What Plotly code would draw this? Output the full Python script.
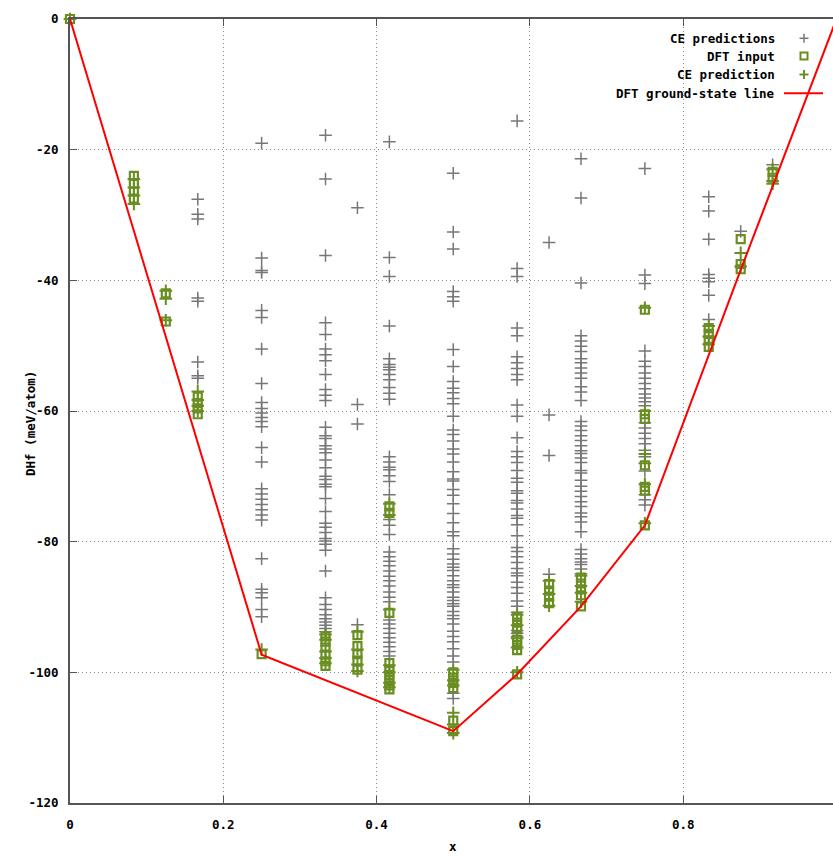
import plotly.graph_objects as go

# Compositions (fraction x) of the enumerated structures
compositions = [1/12, 1/8, 1/6, 1/4, 1/3, 3/8, 5/12, 1/2, 7/12, 5/8, 2/3, 3/4, 5/6, 7/8, 11/12]

# Cluster-expansion predicted formation energies (meV/atom), one list per composition
ce_1_12 = []
ce_1_8 = []
ce_1_6 = [-27.6, -29.9, -30.6, -42.7, -43.2, -52.5, -54.6, -55.0]
ce_1_4 = [-19.0, -36.6, -38.5, -38.8, -44.6, -45.7, -50.5, -55.8, -58.7, -59.6, -60.3, -61.0,
          -61.6, -62.4, -65.6, -67.8, -71.9, -72.7, -73.5, -74.3, -75.1, -75.9, -76.7, -82.6,
          -87.3, -87.8, -88.6, -90.4, -91.5]
ce_1_3 = [-17.8, -24.5, -36.2, -46.5, -48.3, -50.5, -51.4, -52.3, -54.4, -56.7, -57.6, -58.4,
          -62.5, -63.8, -64.2, -65.3, -65.8, -66.4, -67.5, -68.7, -70.0, -70.5, -71.2, -71.6,
          -73.4, -75.4, -77.2, -77.8, -78.6, -79.5, -79.9, -80.4, -81.3, -84.5, -88.6, -89.6,
          -90.4, -91.2, -91.8, -92.3, -92.8, -93.3, -93.8]
ce_3_8 = [-28.9, -59.0, -62.0, -92.7]
ce_5_12 = [-18.8, -36.5, -39.4, -47.0, -52.0, -52.9, -53.3, -53.7, -54.4, -55.2, -56.4, -57.3,
           -58.2, -67.0, -67.8, -68.6, -69.0, -69.9, -70.8, -72.8, -76.6, -77.5, -78.9, -81.6,
           -82.3, -83.0, -83.7, -84.5, -85.3, -86.0, -86.8, -87.7, -88.5, -89.2, -92.0, -92.6,
           -93.3, -94.0, -94.7, -95.4, -96.1, -96.8, -97.5]
ce_1_2 = [-23.6, -32.6, -35.2, -41.7, -42.5, -43.2, -50.6, -53.2, -55.5, -56.5, -57.2, -58.1,
          -58.9, -60.8, -62.9, -63.6, -64.6, -65.8, -66.6, -67.8, -69.3, -70.4, -70.7, -72.0,
          -72.9, -74.2, -75.7, -77.1, -78.5, -79.1, -81.1, -81.9, -82.7, -83.4, -83.9, -84.4,
          -85.2, -86.0, -86.6, -87.0, -87.7, -88.5, -89.0, -89.5, -89.9, -90.7, -91.3, -91.8,
          -92.6, -93.7, -94.5, -95.3, -96.4, -97.5, -98.4, -103.2, -104.0]
ce_7_12 = [-15.6, -38.2, -39.4, -47.3, -48.5, -51.7, -52.6, -53.5, -54.4, -55.2, -59.1, -60.8,
           -64.1, -66.2, -67.0, -67.9, -69.1, -70.3, -70.9, -72.2, -72.6, -73.7, -74.1, -75.0,
           -76.0, -76.4, -77.4, -79.1, -80.9, -81.5, -82.3, -83.2, -84.1, -84.8, -85.2, -86.2,
           -87.0, -87.9, -89.1, -89.9, -90.8, -93.6, -94.0, -94.5]
ce_5_8 = [-34.2, -60.6, -66.8, -85.0]
ce_2_3 = [-21.4, -27.4, -40.4, -48.5, -49.3, -50.1, -50.9, -52.0, -52.6, -53.4, -54.2, -55.0,
          -56.3, -57.1, -58.4, -61.6, -62.3, -63.0, -63.8, -64.5, -65.3, -66.1, -66.5, -67.2,
          -67.9, -69.1, -69.5, -70.6, -71.5, -72.3, -73.1, -73.9, -74.6, -75.6, -76.2, -77.0,
          -78.5, -81.2, -81.9, -82.6, -83.1, -83.5, -84.2, -84.9]
ce_3_4 = [-22.9, -39.2, -40.5, -50.8, -52.4, -53.2, -54.2, -55.0, -55.8, -56.6, -57.4, -58.0,
          -58.6, -59.2, -61.8, -62.6, -63.4, -64.2, -65.0, -66.0, -67.0, -69.2, -72.8, -73.6,
          -74.4]
ce_5_6 = [-27.2, -29.4, -33.7, -39.1, -39.7, -40.2, -42.3, -46.0]
ce_7_8 = [-32.5]
ce_11_12 = [-22.3]

# DFT-calculated formation energies of the input structures (meV/atom)
dft_0 = [0.0]
dft_1_12 = [-24.0, -25.2, -26.4, -27.5]
dft_1_8 = [-42.0, -46.3]
dft_1_6 = [-57.8, -58.8, -59.6, -60.5]
dft_1_4 = [-97.2]
dft_1_3 = [-94.5, -95.3, -96.2, -97.3, -98.3, -99.0]
dft_3_8 = [-94.3, -96.0, -97.2, -98.2, -99.6]
dft_5_12 = [-74.6, -75.6, -90.9, -98.6, -99.6, -100.4, -101.2, -102.0, -102.6]
dft_1_2 = [-100.0, -100.8, -101.6, -102.4, -107.4, -109.0]
dft_7_12 = [-91.5, -92.4, -93.2, -95.0, -95.8, -96.6, -100.3]
dft_5_8 = [-86.5, -87.5, -88.4, -89.4]
dft_2_3 = [-85.5, -86.4, -87.3, -88.2, -89.9]
dft_3_4 = [-44.5, -60.5, -61.2, -68.3, -71.6, -72.2, -77.5]
dft_5_6 = [-47.3, -48.2, -49.2, -50.2]
dft_7_8 = [-33.7, -37.5, -38.3]
dft_11_12 = [-23.4, -24.3]

# CE predictions for the same input structures (meV/atom)
cefit_0 = [0.0]
cefit_1_12 = [-24.5, -25.8, -27.0, -28.3]
cefit_1_8 = [-41.6, -42.8, -46.1]
cefit_1_6 = [-57.0, -58.3, -59.2, -60.0]
cefit_1_4 = [-96.5]
cefit_1_3 = [-94.2, -95.0, -96.8, -97.8, -98.6]
cefit_3_8 = [-93.8, -96.5, -98.8, -99.8]
cefit_5_12 = [-74.2, -75.9, -90.4, -98.9, -100.0, -101.6, -102.3]
cefit_1_2 = [-99.6, -101.2, -102.0, -106.2, -108.0, -109.3]
cefit_7_12 = [-91.2, -92.8, -94.8, -96.2, -100.0]
cefit_5_8 = [-86.0, -88.0, -89.8]
cefit_2_3 = [-85.2, -86.8, -87.8, -89.2]
cefit_3_4 = [-44.2, -60.0, -66.6, -68.0, -71.2, -77.2]
cefit_5_6 = [-47.0, -48.6, -49.8]
cefit_7_8 = [-35.8, -37.9]
cefit_11_12 = [-23.0, -24.8, -25.2]

# DFT ground-state (convex hull) vertices
hull_x = [0, 1/4, 1/2, 7/12, 2/3, 3/4, 7/8, 1]
hull_y = [0.0, -97.3, -109.0, -100.3, -89.9, -77.5, -38.4, 0.0]

# Axis ticks
x_ticks = [0, 0.2, 0.4, 0.6, 0.8]
x_tick_text = ["0", "0.2", "0.4", "0.6", "0.8"]
y_ticks = [0, -20, -40, -60, -80, -100, -120]
y_tick_text = ["0", "-20", "-40", "-60", "-80", "-100", "-120"]

ce_groups = [ce_1_12, ce_1_8, ce_1_6, ce_1_4, ce_1_3, ce_3_8, ce_5_12, ce_1_2, ce_7_12,
             ce_5_8, ce_2_3, ce_3_4, ce_5_6, ce_7_8, ce_11_12]
dft_comps = [0] + compositions
dft_groups = [dft_0, dft_1_12, dft_1_8, dft_1_6, dft_1_4, dft_1_3, dft_3_8, dft_5_12, dft_1_2,
              dft_7_12, dft_5_8, dft_2_3, dft_3_4, dft_5_6, dft_7_8, dft_11_12]
cefit_groups = [cefit_0, cefit_1_12, cefit_1_8, cefit_1_6, cefit_1_4, cefit_1_3, cefit_3_8,
                cefit_5_12, cefit_1_2, cefit_7_12, cefit_5_8, cefit_2_3, cefit_3_4, cefit_5_6,
                cefit_7_8, cefit_11_12]


def flatten(comps, groups):
    xs, ys = [], []
    for c, g in zip(comps, groups):
        xs += [c] * len(g)
        ys += list(g)
    return xs, ys


GREY = "#777777"
GREEN = "#6b8e23"
RED = "#ff0000"
AXIS = "#555555"
GRID = "#8c8c8c"
FONT = dict(family="DejaVu Sans Mono", size=12.5, color="black", weight="bold")

fig = go.Figure()

x, y = flatten(compositions, ce_groups)
fig.add_trace(go.Scatter(
    x=x, y=y, mode="markers", name="CE predictions", cliponaxis=False,
    marker=dict(symbol="cross-thin", size=9, color=GREY, line=dict(color=GREY, width=1.5)),
))

x, y = flatten(dft_comps, dft_groups)
fig.add_trace(go.Scatter(
    x=x, y=y, mode="markers", name="DFT input", cliponaxis=False,
    marker=dict(symbol="square-open", size=8, color=GREEN, line=dict(color=GREEN, width=2.2)),
))

x, y = flatten(dft_comps, cefit_groups)
fig.add_trace(go.Scatter(
    x=x, y=y, mode="markers", name="CE prediction", cliponaxis=False,
    marker=dict(symbol="cross-thin", size=9, color=GREEN, line=dict(color=GREEN, width=2)),
))

fig.add_trace(go.Scatter(
    x=hull_x, y=hull_y, mode="lines", name="DFT ground-state line",
    line=dict(color=RED, width=2),
))

# Key block in the top-right corner: right-aligned labels with the sample to their right
W, H = 833, 857
ML, MR, MT, MB = 70, 0, 19, 54
pw, ph = W - ML - MR, H - MT - MB


def px(xp):
    return (xp - ML) / pw


def py(yp):
    return (H - MB - yp) / ph


key_labels = ["CE predictions", "DFT input", "CE prediction", "DFT ground-state line"]
key_rows = [38.3, 56.0, 74.5, 93.3]
for label, row in zip(key_labels, key_rows):
    fig.add_annotation(x=px(777), y=py(row), xref="paper", yref="paper", text=label,
                       showarrow=False, xanchor="right", yanchor="middle", font=FONT)

# Axis titles
fig.add_annotation(x=px(453), y=py(847), xref="paper", yref="paper", text="x",
                   showarrow=False, xanchor="center", yanchor="middle", font=FONT)
fig.add_annotation(x=px(30), y=py(424), xref="paper", yref="paper", text="DHf (meV/atom)",
                   showarrow=False, xanchor="center", yanchor="middle", textangle=-90,
                   font=FONT)

kx = 804
shapes = []
# grey plus
shapes += [dict(type="line", xref="paper", yref="paper", x0=px(kx - 4.5), x1=px(kx + 4.5),
                y0=py(key_rows[0]), y1=py(key_rows[0]), line=dict(color=GREY, width=1.5)),
           dict(type="line", xref="paper", yref="paper", x0=px(kx), x1=px(kx),
                y0=py(key_rows[0] - 4.5), y1=py(key_rows[0] + 4.5), line=dict(color=GREY, width=1.5))]
# green open square
shapes.append(dict(type="rect", xref="paper", yref="paper", x0=px(kx - 3.5), x1=px(kx + 3.5),
                   y0=py(key_rows[1] - 3.5), y1=py(key_rows[1] + 3.5),
                   line=dict(color=GREEN, width=2)))
# green plus
shapes += [dict(type="line", xref="paper", yref="paper", x0=px(kx - 4.5), x1=px(kx + 4.5),
                y0=py(key_rows[2]), y1=py(key_rows[2]), line=dict(color=GREEN, width=2)),
           dict(type="line", xref="paper", yref="paper", x0=px(kx), x1=px(kx),
                y0=py(key_rows[2] - 4.5), y1=py(key_rows[2] + 4.5), line=dict(color=GREEN, width=2))]
# red line sample
shapes.append(dict(type="line", xref="paper", yref="paper", x0=px(784), x1=px(823),
                   y0=py(key_rows[3]), y1=py(key_rows[3]), line=dict(color=RED, width=2)))

fig.update_layout(
    width=W, height=H,
    margin=dict(l=ML, r=MR, t=MT, b=MB, pad=0),
    paper_bgcolor="white", plot_bgcolor="white",
    showlegend=False,
    font=FONT,
    shapes=shapes,
    xaxis=dict(
        range=[0, (W - ML) / 766.5], tickvals=x_ticks, ticktext=x_tick_text,
        showline=True, linecolor=AXIS, linewidth=2, mirror="ticks",
        ticks="inside", ticklen=7, tickcolor=AXIS, tickwidth=1,
        showgrid=True, gridcolor=GRID, griddash="1px,3px", gridwidth=1,
        zeroline=False, tickfont=FONT, ticklabelstandoff=9,
    ),
    yaxis=dict(
        range=[-120, 0], tickvals=y_ticks, ticktext=y_tick_text,
        showline=True, linecolor=AXIS, linewidth=2, mirror=False,
        ticks="inside", ticklen=7, tickcolor=AXIS, tickwidth=1,
        showgrid=True, gridcolor=GRID, griddash="1px,3px", gridwidth=1,
        zeroline=False, tickfont=FONT, ticklabelstandoff=7,
    ),
)

fig.write_html("out.html")
